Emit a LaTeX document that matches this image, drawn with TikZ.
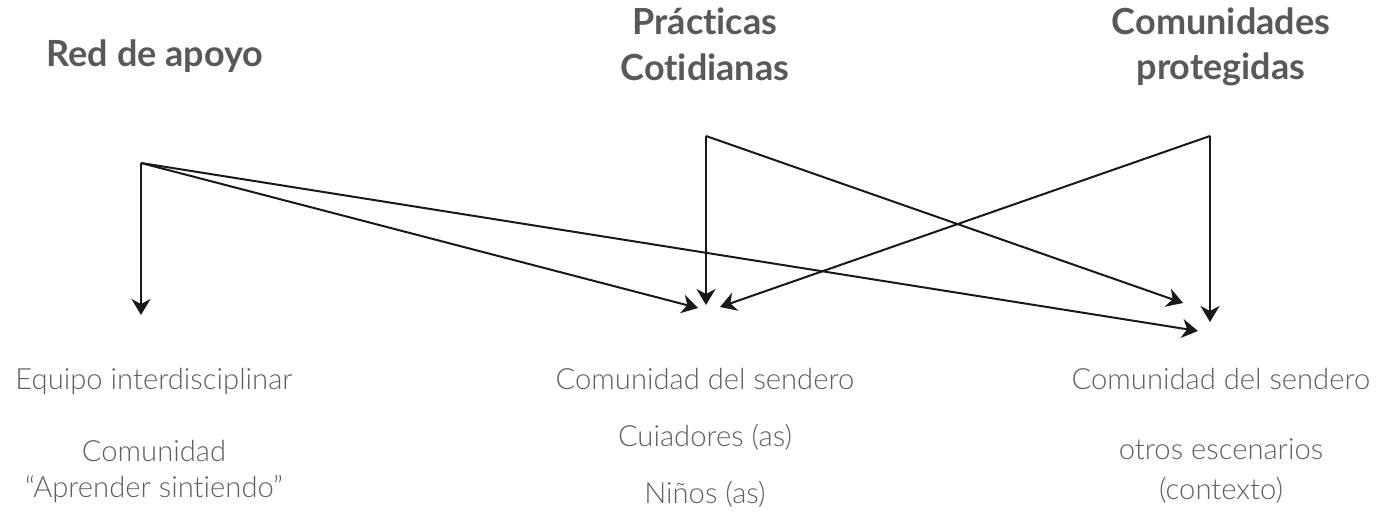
\documentclass[tikz,border=0pt]{standalone}
\usepackage{fontspec}
\setmainfont{Lato}[Ligatures=NoCommon]
\newfontfamily\thinfont{Lato Light}[Ligatures=NoCommon]
\usetikzlibrary{arrows.meta}
\definecolor{headgray}{HTML}{58595B}
\definecolor{bodygray}{HTML}{5F5F61}
\tikzset{
  head/.style={font=\bfseries\fontsize{18}{22}\selectfont, text=headgray, anchor=base, inner sep=0pt},
  item/.style={font=\thinfont\fontsize{14.6}{18}\selectfont, text=bodygray, anchor=base, inner sep=0pt},
  link/.style={line width=1pt, draw=black!90, -{Stealth[length=8pt, width=9.5pt, inset=2.5pt]}}
}
\begin{document}
\begin{tikzpicture}[x=0.5pt, y=-0.5pt]
    \useasboundingbox (0, 0) rectangle (1381, 512);
    % headings
    \node[head] (red) at (155, 67) {Red de apoyo};
    \node[head] (prac1) at (705, 35) {Prácticas};
    \node[head] (prac2) at (705, 81) {Cotidianas};
    \node[head] (prot1) at (1221, 35) {Comunidades};
    \node[head] (prot2) at (1221, 80) {protegidas};
    % left column
    \node[item] (equipo) at (154, 390) {Equipo interdisciplinar};
    \node[item] (comu) at (154, 462) {Comunidad};
    \node[item] (aprender) at (154, 498) {“Aprender sintiendo”};
    % middle column
    \node[item] (sendA) at (705, 390) {Comunidad del sendero};
    \node[item] (cuida) at (705, 447) {Cuiadores (as)};
    \node[item] (ninos) at (705, 504) {Niños (as)};
    % right column
    \node[item] (sendB) at (1221, 390) {Comunidad del sendero};
    \node[item] (otros) at (1221, 460) {otros escenarios};
    \node[item] (contexto) at (1221, 500) {(contexto)};
    % start and end points
    \coordinate (redS) at (141, 163);
    \coordinate (pracS) at (706, 136);
    \coordinate (protS) at (1210, 136);
    \coordinate (leftT) at (141, 315);
    \coordinate (midL) at (698, 308);
    \coordinate (midT) at (706, 305);
    \coordinate (midR) at (720, 307);
    \coordinate (rightA) at (1183, 303);
    \coordinate (rightB) at (1198, 331);
    \coordinate (rightT) at (1210, 322);
    % red de apoyo
    \draw[link] (redS) -- (leftT);
    \draw[link] (redS) -- (midL);
    \draw[link] (redS) -- (rightB);
    % practicas
    \draw[link] (pracS) -- (midT);
    \draw[link] (pracS) -- (rightA);
    % comunidades
    \draw[link] (protS) -- (rightT);
    \draw[link] (protS) -- (midR);
\end{tikzpicture}
\end{document}
